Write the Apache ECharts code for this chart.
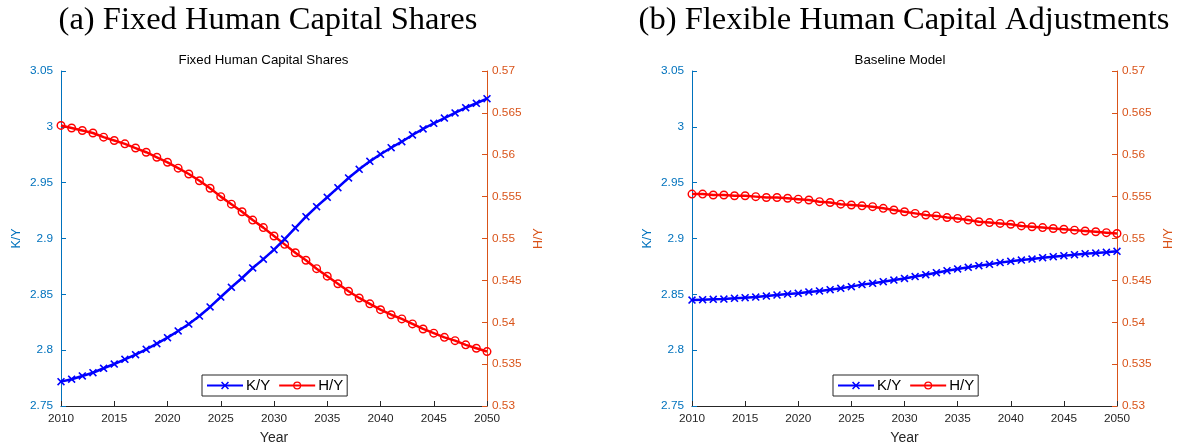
<!DOCTYPE html>
<html><head><meta charset="utf-8">
<script src="https://cdn.jsdelivr.net/npm/echarts@6/dist/echarts.min.js"></script>
<style>html,body{margin:0;padding:0;background:#fff}#c{width:1183px;height:448px}</style>
</head><body><div id="c"></div>
<script>
const years = [2010,2011,2012,2013,2014,2015,2016,2017,2018,2019,2020,2021,2022,2023,2024,2025,2026,2027,2028,2029,2030,2031,2032,2033,2034,2035,2036,2037,2038,2039,2040,2041,2042,2043,2044,2045,2046,2047,2048,2049,2050];
const kyFixed = [2.7718,2.7740,2.7769,2.7798,2.7838,2.7876,2.7918,2.7960,2.8008,2.8058,2.8112,2.8172,2.8234,2.8306,2.8387,2.8476,2.8563,2.8646,2.8736,2.8815,2.8900,2.8995,2.9095,2.9195,2.9285,2.9369,2.9455,2.9542,2.9620,2.9691,2.9754,2.9813,2.9867,2.9927,2.9981,3.0032,3.0079,3.0124,3.0171,3.0211,3.0252];
const hyFixed = [0.5635,0.5632,0.5629,0.5626,0.5621,0.5617,0.5613,0.5608,0.5603,0.5597,0.5591,0.5584,0.5577,0.5569,0.5560,0.5550,0.5541,0.5532,0.5522,0.5513,0.5503,0.5493,0.5483,0.5474,0.5464,0.5455,0.5446,0.5437,0.5429,0.5422,0.5415,0.5409,0.5404,0.5398,0.5392,0.5387,0.5382,0.5378,0.5373,0.5369,0.5365];
const kyFlex = [2.8449,2.8452,2.8455,2.8458,2.8464,2.8470,2.8476,2.8485,2.8494,2.8503,2.8509,2.8521,2.8530,2.8542,2.8554,2.8569,2.8587,2.8599,2.8613,2.8628,2.8642,2.8659,2.8676,2.8694,2.8712,2.8727,2.8742,2.8757,2.8769,2.8784,2.8796,2.8807,2.8816,2.8828,2.8837,2.8846,2.8855,2.8864,2.8870,2.8876,2.8885];
const hyFlex = [0.5553,0.5553,0.5552,0.5552,0.5551,0.5551,0.5550,0.5549,0.5549,0.5548,0.5547,0.5546,0.5544,0.5543,0.5541,0.5540,0.5539,0.5538,0.5536,0.5534,0.5532,0.5530,0.5528,0.5527,0.5525,0.5524,0.5522,0.5520,0.5519,0.5518,0.5517,0.5515,0.5514,0.5513,0.5512,0.5511,0.5510,0.5509,0.5508,0.5507,0.5506];
const panelTitles = ['(a) Fixed Human Capital Shares', '(b) Flexible Human Capital Adjustments'];
const innerTitles = ['Fixed Human Capital Shares', 'Baseline Model'];
const seriesNames = ['K/Y', 'H/Y'];

const BLUE_AX = '#0072BD', ORANGE_AX = '#D95319', DARK = '#262626';
const xSym = 'path://M0,1.4L1.4,0L5,3.6L8.6,0L10,1.4L6.4,5L10,8.6L8.6,10L5,6.4L1.4,10L0,8.6L3.6,5Z';
const ringSym = 'path://M0,5A5,5 0 1,1 10,5A5,5 0 1,1 0,5ZM1.6,5A3.4,3.4 0 1,0 8.4,5A3.4,3.4 0 1,0 1.6,5Z';
const pairs = arr => years.map((y, i) => [y, arr[i]]);

const grids = [
  {left: 61, right: 696, top: 71, bottom: 42, containLabel: false, outerBoundsMode: 'none'},
  {left: 692, right: 66, top: 71, bottom: 42, containLabel: false, outerBoundsMode: 'none'}
];
const sans = 'Liberation Sans';

const xAxes = grids.map((g, i) => ({
  type: 'value', gridIndex: i, min: 2010, max: 2050, interval: 5,
  name: 'Year', nameLocation: 'middle', nameGap: 25,
  nameTextStyle: {color: DARK, fontSize: 14, fontFamily: sans},
  axisLine: {show: true, lineStyle: {color: DARK, width: 1}},
  axisTick: {show: true, inside: true, length: 5, lineStyle: {color: DARK}},
  axisLabel: {color: DARK, fontSize: 11.8, fontFamily: sans, margin: 7, formatter: v => String(v)},
  splitLine: {show: false}
}));
const yAxes = [];
grids.forEach((g, i) => {
  yAxes.push({
    type: 'value', gridIndex: i, position: 'left', min: 2.75, max: 3.05, interval: 0.05,
    name: 'K/Y', nameLocation: 'middle', nameGap: 38, nameRotate: 90,
    nameTextStyle: {color: BLUE_AX, fontSize: 12.5, fontFamily: sans},
    axisLine: {show: true, lineStyle: {color: BLUE_AX, width: 1}},
    axisTick: {show: true, inside: true, length: 5, lineStyle: {color: BLUE_AX}},
    axisLabel: {color: BLUE_AX, fontSize: 11.8, fontFamily: sans, margin: 8},
    splitLine: {show: false}
  });
  yAxes.push({
    type: 'value', gridIndex: i, position: 'right', min: 0.53, max: 0.57, interval: 0.005,
    name: 'H/Y', nameLocation: 'middle', nameGap: 45, nameRotate: 90,
    nameTextStyle: {color: ORANGE_AX, fontSize: 12.5, fontFamily: sans},
    axisLine: {show: true, lineStyle: {color: ORANGE_AX, width: 1}},
    axisTick: {show: true, inside: true, length: 5, lineStyle: {color: ORANGE_AX}},
    axisLabel: {color: ORANGE_AX, fontSize: 11.8, fontFamily: sans, margin: 5},
    splitLine: {show: false}
  });
});

const kyData = [kyFixed, kyFlex], hyData = [hyFixed, hyFlex];
const series = [];
[0, 1].forEach(i => {
  series.push({
    name: seriesNames[0], type: 'line', xAxisIndex: i, yAxisIndex: 2 * i,
    data: pairs(kyData[i]), symbol: xSym, symbolSize: 8, showAllSymbol: true,
    lineStyle: {color: '#0000FF', width: 2.5}, itemStyle: {color: '#0000FF'},
    animation: false, z: 3
  });
  series.push({
    name: seriesNames[1], type: 'line', xAxisIndex: i, yAxisIndex: 2 * i + 1,
    data: pairs(hyData[i]), symbol: ringSym, symbolSize: 9, showAllSymbol: true,
    lineStyle: {color: '#FF0000', width: 2.5}, itemStyle: {color: '#FF0000'},
    animation: false, z: 2
  });
});

const legendLefts = [202, 833];
const legends = legendLefts.map(l => ({
  left: l, top: 375, orient: 'horizontal', data: seriesNames,
  itemWidth: 36, itemHeight: 10, itemGap: 8,
  padding: [3, 4, 3, 4], borderColor: DARK, borderWidth: 1, backgroundColor: '#fff',
  textStyle: {color: '#000', fontSize: 15, fontFamily: sans, padding: [0, 0, 0, -2]},
  selectedMode: false
}));

const graphics = [];
const bigCenters = [268, 904], innerCenters = [263.5, 900];
[0, 1].forEach(i => {
  graphics.push({type: 'text', x: bigCenters[i], y: 20, style: {text: panelTitles[i], fill: '#000',
    font: '32.5px "Liberation Serif"', textAlign: 'center', textVerticalAlign: 'middle'}});
  graphics.push({type: 'text', x: innerCenters[i], y: 60, style: {text: innerTitles[i], fill: '#000',
    font: '13.3px "Liberation Sans"', textAlign: 'center', textVerticalAlign: 'middle'}});
});

const chart = echarts.init(document.getElementById('c'), null, {renderer: 'canvas'});
chart.setOption({
  animation: false, backgroundColor: '#fff',
  grid: grids, xAxis: xAxes, yAxis: yAxes, series: series, legend: legends, graphic: graphics
});
</script></body></html>
